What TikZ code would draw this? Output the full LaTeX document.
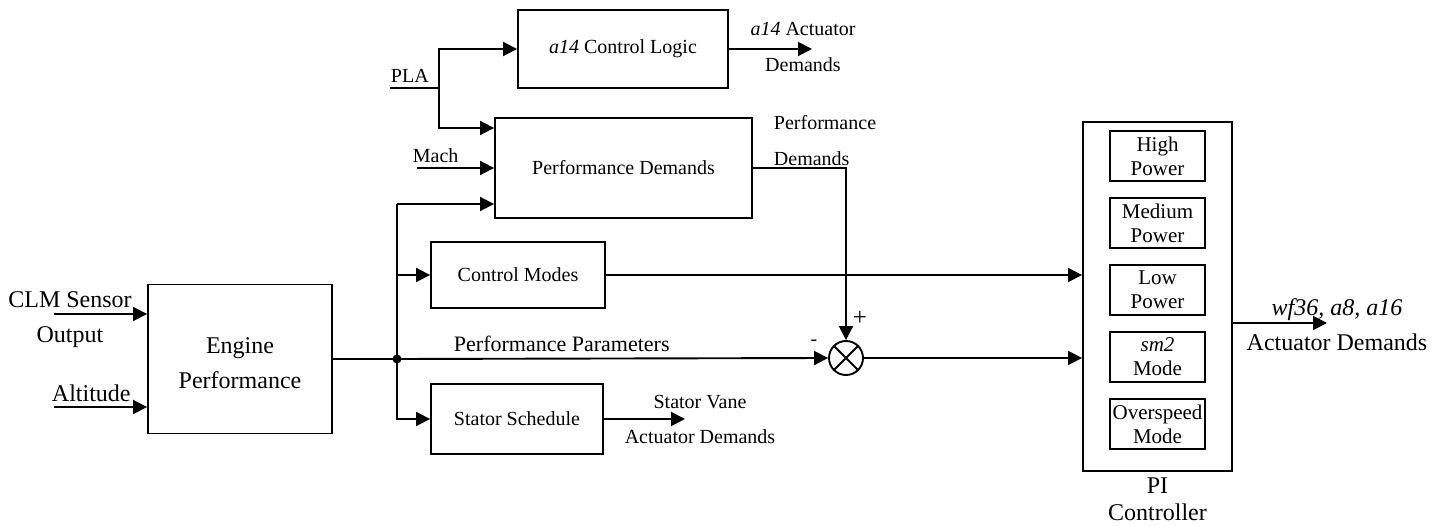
\documentclass[tikz,border=0pt]{standalone}
\usepackage{fontspec}
\setmainfont{Liberation Serif}
\usetikzlibrary{positioning,arrows.meta}

\begin{document}
\begin{tikzpicture}[x=1pt,y=-1pt,line width=1.9pt,node distance=5pt,
    >={Triangle[length=14pt,width=14pt]},
    blk/.style={draw,rectangle,inner sep=0pt,align=center,font=\fontsize{20}{35}\selectfont},
    modebox/.style={draw,rectangle,minimum width=95pt,minimum height=50pt,inner sep=0pt,align=center,font=\fontsize{21}{24}\selectfont},
    lbl/.style={inner sep=0pt,align=center,font=\fontsize{20}{36}\selectfont},
    biglbl/.style={lbl,font=\fontsize{24}{35}\selectfont}]
    \useasboundingbox (0,0) rectangle (1449,526);

    % blocks
    \node[blk,font=\fontsize{24}{35}\selectfont,minimum width=184pt,minimum height=149pt] (eng) at (240,359) {\rule{0pt}{24pt}Engine\\Performance};
    \node[blk,minimum width=210pt,minimum height=78pt] (logic) at (623,49) {\textit{a14} Control Logic};
    \node[blk,minimum width=257pt,minimum height=100pt] (perf) at (623.5,168) {Performance Demands};
    \node[blk,minimum width=174pt,minimum height=66pt] (modes) at (518,275) {Control Modes};
    \node[blk,minimum width=172pt,minimum height=70pt] (stator) at (517,419) {Stator Schedule};
    \node[draw,circle,minimum size=34pt,inner sep=0pt] (sum) at (846,358) {};
    \draw (sum.45) -- (sum.225) (sum.135) -- (sum.315);

    % PI controller
    \node[draw,rectangle,minimum width=149pt,minimum height=349pt] (pic) at (1157.5,296.5) {};
    \foreach \txt [count=\i] in {{High\\Power},{Medium\\Power},{Low\\Power},{\textit{sm2}\\Mode},{Overspeed\\Mode}}
      \node[modebox] (mode\i) at (1157.5,{156+67*(\i-1)}) {\txt};
    \node[biglbl,font=\fontsize{24}{27}\selectfont,below=of pic] (piname) {PI\\Controller};

    % free ends
    \coordinate (clmin) at (54,314);
    \coordinate (altin) at (54,407);
    \coordinate (pla) at (390,88);
    \coordinate (plaj) at (439,88);
    \coordinate (machin) at (417,168);
    \coordinate (split) at (397,359);
    \coordinate (ptap) at (397,204);
    \coordinate (a14out) at (812,49);
    \coordinate (svout) at (685,419);
    \coordinate (piout) at (1327,323);

    % connectors
    \draw[->] (clmin) -- (clmin -| eng.west);
    \draw[->] (altin) -- (altin -| eng.west);
    \draw (pla) -- (plaj);
    \draw[->] (plaj) |- (logic.west);
    \draw[->] (plaj) |- ([yshift=40pt]perf.west);
    \draw[->] (machin) -- (perf.west);
    \draw[->] (ptap) -- ([yshift=-36pt]perf.west);
    \draw[->] (ptap) |- (stator.west);
    \draw[->] (split |- modes.west) -- (modes.west);
    \draw[->] (eng.east |- split) -- (split) -- (sum.west);
    \fill (split) circle (4.5pt);
    \draw[->] (logic.east) -- (a14out);
    \draw[->] (perf.east) -| (sum.north);
    \draw[->] (modes.east) -- (modes.east -| pic.west);
    \draw[->] (sum.east) -- (sum.east -| pic.west);
    \draw[->] (stator.east) -- (svout);
    \draw[->] (pic.east |- piout) -- (piout);

    % labels
    \node[biglbl] (clmlbl) at (70,320) {CLM Sensor\\Output};
    \node[biglbl,anchor=base west] (altlbl) at (51,402) {Altitude};
    \node[lbl,anchor=base west] (plalbl) at (390,83) {PLA};
    \node[lbl,anchor=base west] (machlbl) at (412,163) {Mach};
    \node[lbl] (a14lbl) at (803,47) {\textit{a14} Actuator\\Demands};
    \node[lbl,align=left,anchor=west] (pdlbl) at (773,141) {Performance\\Demands};
    \node[lbl,font=\fontsize{22}{26}\selectfont,anchor=base west] (pplbl) at (453,352) {Performance Parameters};
    \node[lbl] (minus) at (814,343) {-};
    \node[lbl,font=\fontsize{25}{30}\selectfont] (plus) at (860,318) {+};
    \node[lbl,font=\fontsize{20}{35}\selectfont] (svlbl) at (700,419) {Stator Vane\\Actuator Demands};
    \node[biglbl] (outlbl) at (1337,325) {\textit{wf36, a8, a16}\\Actuator Demands};
\end{tikzpicture}
\end{document}
